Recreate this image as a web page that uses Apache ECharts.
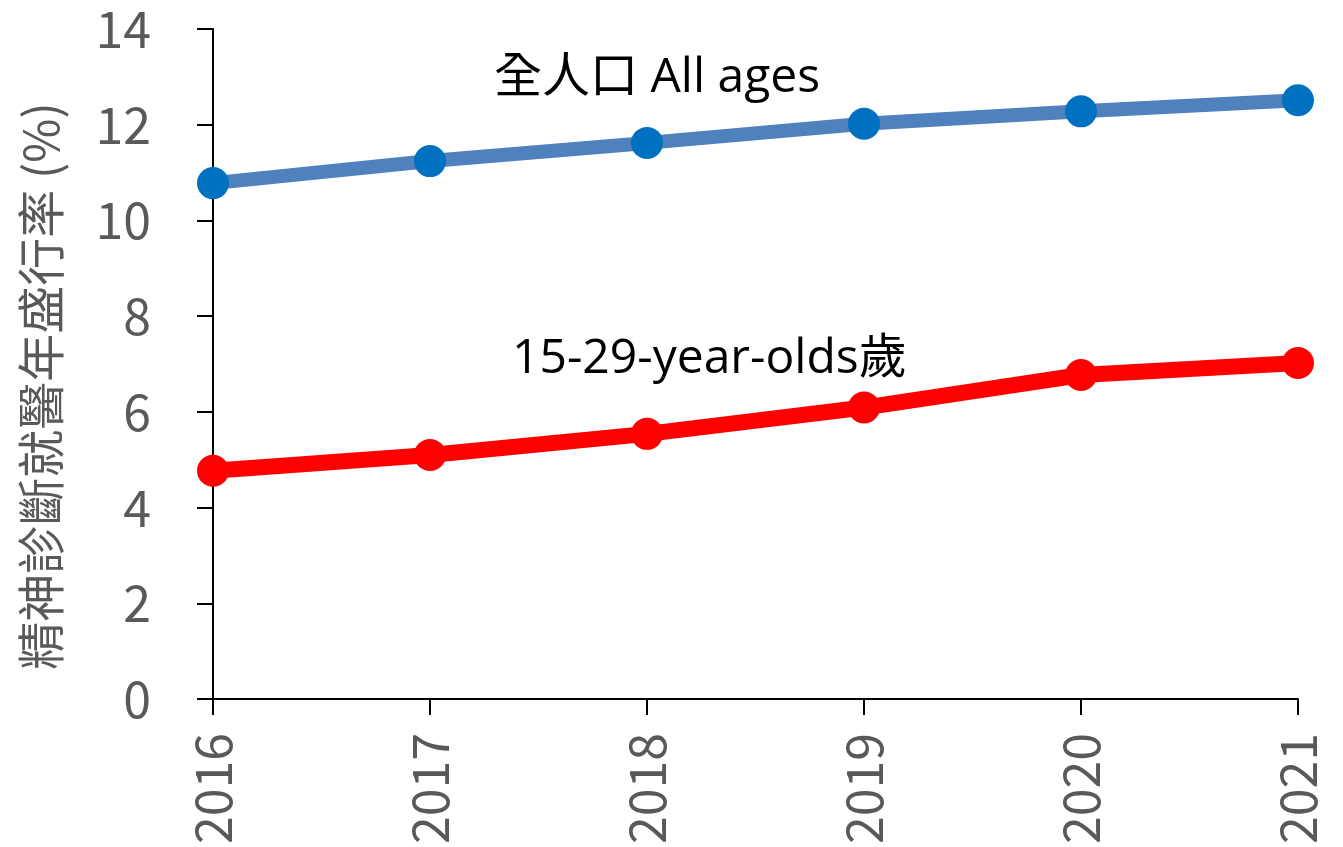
<!DOCTYPE html>
<html>
<head>
<meta charset="utf-8">
<script src="https://cdn.jsdelivr.net/npm/echarts@6/dist/echarts.min.js"></script>
<style>
  html, body { margin: 0; padding: 0; background: #fff; }
  #chart { width: 1343px; height: 847px; }
</style>
</head>
<body>
<div id="chart"></div>
<script>
// Annual prevalence of psychiatric-diagnosis medical visits (%)
const years = ['2016', '2017', '2018', '2019', '2020', '2021'];
const allAges = [10.78, 11.24, 11.62, 12.02, 12.28, 12.51];
const youth = [4.77, 5.10, 5.54, 6.09, 6.77, 7.02];
const yTicks = [0, 2, 4, 6, 8, 10, 12, 14];

const FONT = '"Noto Sans CJK TC", "Noto Sans", sans-serif';
const NOTE_FONT = '"Open Sans", "Noto Sans CJK TC", sans-serif';
const chart = echarts.init(document.getElementById('chart'), null, { renderer: 'canvas' });

chart.setOption({
  backgroundColor: '#ffffff',
  animation: false,
  grid: { left: 213, right: 45, top: 29, bottom: 146, containLabel: false },
  xAxis: {
    type: 'category',
    data: years,
    boundaryGap: false,
    axisLine: { lineStyle: { color: '#000', width: 2 } },
    axisTick: { alignWithLabel: true, length: 16, lineStyle: { color: '#000', width: 2 } },
    axisLabel: { rotate: 90, color: '#595959', fontSize: 50, fontFamily: FONT, margin: 34 }
  },
  yAxis: {
    type: 'value',
    min: yTicks[0],
    max: yTicks[yTicks.length - 1],
    interval: 2,
    name: '精神診斷就醫年盛行率 (%)',
    nameLocation: 'middle',
    nameGap: 148,
    nameTextStyle: { color: '#595959', fontSize: 48, fontFamily: FONT, padding: [0, 44, 0, 0] },
    splitLine: { show: false },
    axisLine: { show: true, lineStyle: { color: '#000', width: 2 } },
    axisTick: { show: true, length: 16, lineStyle: { color: '#000', width: 2 } },
    axisLabel: { color: '#595959', fontSize: 50, fontFamily: FONT, margin: 62 }
  },
  series: [
    {
      name: '全人口 All ages',
      type: 'line',
      data: allAges,
      symbol: 'circle',
      symbolSize: 32,
      lineStyle: { color: '#4F81BD', width: 14 },
      itemStyle: { color: '#0070C0' },
      z: 3
    },
    {
      name: '15-29-year-olds歲',
      type: 'line',
      data: youth,
      symbol: 'circle',
      symbolSize: 32,
      lineStyle: { color: '#FF0000', width: 16 },
      itemStyle: { color: '#FF0000' },
      z: 3
    }
  ],
  graphic: [
    {
      type: 'text', x: 494, y: 78,
      style: { text: '全人口 All ages', fill: '#000', font: '48px ' + NOTE_FONT, verticalAlign: 'middle' }
    },
    {
      type: 'text', x: 512, y: 359,
      style: { text: '15-29-year-olds歲', fill: '#000', font: '48px ' + NOTE_FONT, verticalAlign: 'middle' }
    }
  ]
});
</script>
</body>
</html>
